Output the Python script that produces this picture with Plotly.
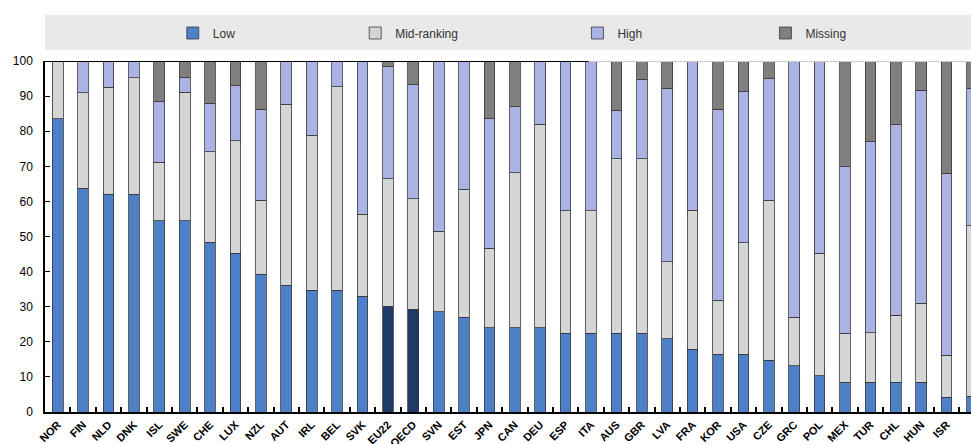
import plotly.graph_objects as go

countries = ["NOR", "FIN", "NLD", "DNK", "ISL", "SWE", "CHE", "LUX", "NZL", "AUT",
             "IRL", "BEL", "SVK", "EU22", "OECD", "SVN", "EST", "JPN", "CAN", "DEU",
             "ESP", "ITA", "AUS", "GBR", "LVA", "FRA", "KOR", "USA", "CZE", "GRC",
             "POL", "MEX", "TUR", "CHL", "HUN", "ISR", "PRT"]
low = [83.5, 63.8, 62.1, 62.1, 54.5, 54.5, 48.3, 45.2, 39.3, 36.1,
       34.7, 34.7, 33.0, 30.2, 29.3, 28.6, 27.0, 24.0, 24.0, 24.0,
       22.4, 22.4, 22.4, 22.4, 20.8, 17.9, 16.4, 16.4, 14.8, 13.2,
       10.3, 8.5, 8.5, 8.5, 8.5, 4.2, 4.5]
mid = [16.5, 27.2, 30.4, 33.2, 16.7, 36.6, 25.9, 32.1, 21.1, 51.6,
       44.2, 58.0, 23.4, 36.2, 31.4, 22.9, 36.4, 22.7, 44.2, 58.0,
       35.0, 35.0, 49.8, 49.8, 22.0, 39.6, 15.5, 31.8, 45.6, 13.8,
       34.9, 13.9, 14.1, 19.1, 22.5, 12.0, 48.5]
high = [0.0, 9.0, 7.5, 4.7, 17.2, 4.2, 13.7, 15.6, 25.8, 12.2,
        21.1, 7.3, 43.6, 32.0, 32.5, 48.5, 36.6, 36.8, 18.8, 18.0,
        42.6, 42.6, 13.8, 22.6, 49.4, 42.5, 54.3, 43.1, 34.6, 73.0,
        54.8, 47.5, 54.4, 54.2, 60.7, 51.8, 39.2]
missing = [0.0, 0.0, 0.0, 0.0, 11.6, 4.7, 12.1, 7.1, 13.8, 0.0,
           0.0, 0.0, 0.0, 1.6, 6.8, 0.0, 0.0, 16.5, 13.0, 0.0,
           0.0, 0.0, 14.0, 5.2, 7.8, 0.0, 13.8, 8.7, 5.0, 0.0,
           0.0, 30.1, 23.0, 18.2, 8.3, 32.0, 7.8]
series_names = ["Low", "Mid-ranking", "High", "Missing"]
y_ticks = list(range(0, 101, 10))

C_LOW = "#4d80c6"
C_AGG = "#1d3a68"
C_MID = "#d3d5d6"
C_HIGH = "#aab3e3"
C_MISS = "#7f7f7f"
OUTLINE = "#3a3a3a"

low_colors = [C_AGG if c in ("EU22", "OECD") else C_LOW for c in countries]

fig = go.Figure()
data = [(low, low_colors, "legend"), (mid, C_MID, "legend2"),
        (high, C_HIGH, "legend3"), (missing, C_MISS, "legend4")]
for name, (vals, col, lg) in zip(series_names, data):
    fig.add_trace(go.Bar(
        x=countries, y=vals, name=name, legend=lg,
        marker=dict(color=col, line=dict(color=OUTLINE, width=0.8)),
    ))

legend_x = [0.138, 0.335, 0.575, 0.778]
legend_common = dict(orientation="h", bgcolor="rgba(0,0,0,0)", yanchor="middle",
                     y=1.0 + (61 - 33) / 351, xanchor="left",
                     font=dict(family="Liberation Sans Narrow, Liberation Sans, Arial", size=12, color="#333"),
                     itemwidth=30, tracegroupgap=0)
layout_legends = {}
for i, key in enumerate(["legend", "legend2", "legend3", "legend4"]):
    layout_legends[key] = dict(legend_common, x=legend_x[i])

fig.update_layout(
    barmode="stack",
    bargap=0.58,
    width=971, height=444,
    margin=dict(l=45, r=0, t=61, b=32, autoexpand=False),
    paper_bgcolor="white", plot_bgcolor="white",
    font=dict(family="Liberation Sans Narrow, Liberation Sans, Arial", color="black"),
    showlegend=True,
    **layout_legends,
    xaxis=dict(
        range=[-0.5, 35.96], type="category", automargin=False,
        showline=True, linecolor="black", linewidth=2,
        ticks="inside", tickson="boundaries", ticklen=5, tickcolor="black", tickwidth=1.5,
        tickangle=-45, tickfont=dict(family="Liberation Sans", size=11, color="black", weight="bold"),
        showgrid=False,
    ),
    yaxis=dict(
        range=[0, 100], tickvals=y_ticks, automargin=False,
        showline=True, linecolor="black", linewidth=1.5,
        ticks="inside", ticklen=5, tickcolor="black",
        tickfont=dict(size=12, color="black"),
        ticklabelstandoff=8,
        showgrid=False, zeroline=False,
    ),
    shapes=[
        dict(type="rect", xref="paper", yref="paper", x0=0, x1=1.0,
             y0=1.0 + (61 - 50) / 351, y1=1.0 + (61 - 15) / 351,
             fillcolor="#e9e9e9", line=dict(width=0), layer="below"),
        dict(type="line", xref="paper", yref="y", x0=0, x1=0.587, y0=100, y1=100,
             line=dict(color="black", width=2)),
        dict(type="line", xref="paper", yref="y", x0=0.587, x1=1.0, y0=100, y1=100,
             line=dict(color="#c8c8c8", width=2)),
    ],
)

fig.write_html("out.html", config={"displayModeBar": False},
               post_script="document.body.style.margin='0';document.body.style.overflow='hidden';")
